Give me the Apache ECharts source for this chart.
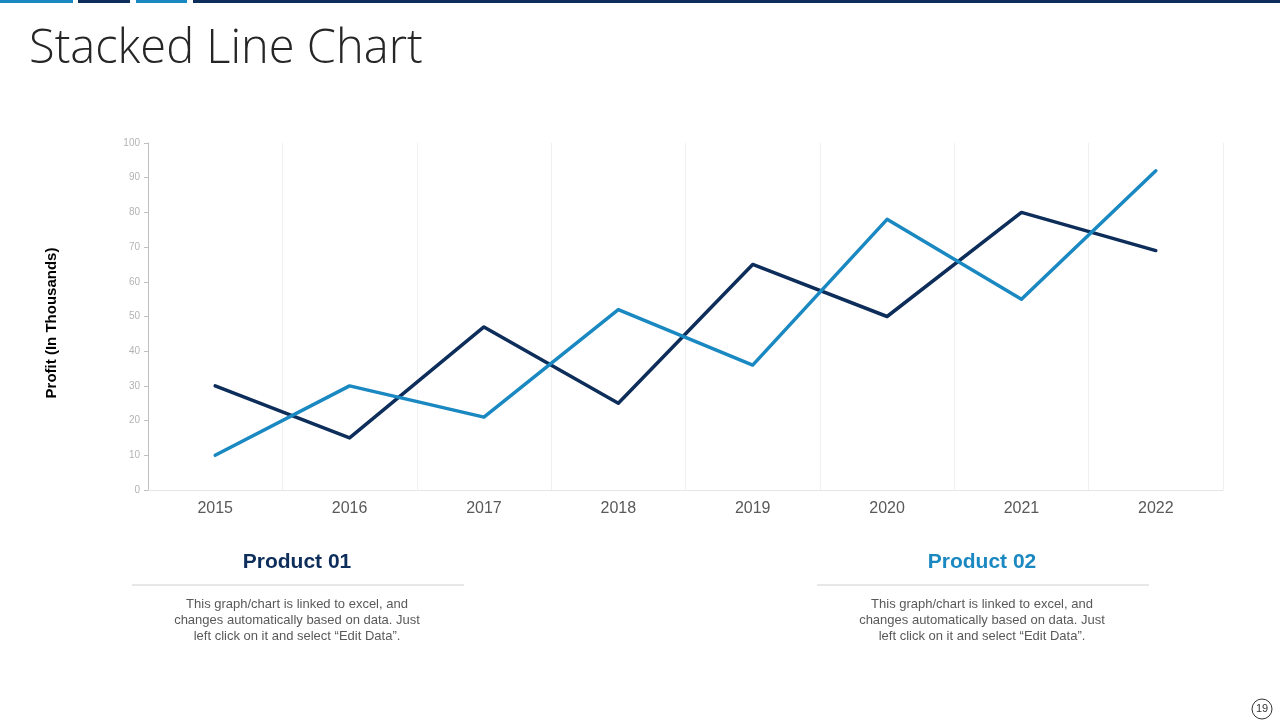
<!DOCTYPE html>
<html>
<head>
<meta charset="utf-8">
<script src="https://cdn.jsdelivr.net/npm/echarts@6/dist/echarts.min.js"></script>
<style>
html,body{margin:0;padding:0;background:#fff;}
#main{width:1280px;height:720px;}
</style>
</head>
<body>
<div id="main"></div>
<script>
const years = ['2015','2016','2017','2018','2019','2020','2021','2022'];
const product01 = [30, 15, 47, 25, 65, 50, 80, 69];
const product02 = [10, 30, 21, 52, 36, 78, 55, 92];
const seriesNames = ['Product 01', 'Product 02'];
const yTicks = [0, 10, 20, 30, 40, 50, 60, 70, 80, 90, 100];
const yAxisTitle = 'Profit (In Thousands)';

const DARK = '#0d2d5a';
const LIGHT = '#1a88c1';
const bodyText = 'This graph/chart is linked to excel, and\nchanges automatically based on data. Just\nleft click on it and select \u201cEdit Data\u201d.';

const chart = echarts.init(document.getElementById('main'));
chart.setOption({
  animation: false,
  backgroundColor: '#ffffff',
  grid: { left: 148, right: 57, top: 143, bottom: 230, containLabel: false },
  xAxis: {
    type: 'category',
    data: years,
    boundaryGap: true,
    axisLine: { show: true, lineStyle: { color: '#e6e6e6', width: 1 } },
    axisTick: { show: false },
    axisLabel: { color: '#595959', fontSize: 16, fontFamily: 'Arial, Liberation Sans', margin: 11 },
    splitLine: { show: true, lineStyle: { color: '#f0f0f0', width: 1 } }
  },
  yAxis: {
    type: 'value',
    min: yTicks[0],
    max: yTicks[yTicks.length - 1],
    interval: 10,
    axisLine: { show: true, lineStyle: { color: '#bfbfbf', width: 1 } },
    axisTick: { show: true, length: 4, lineStyle: { color: '#bfbfbf' } },
    axisLabel: { color: '#b3b3b3', fontSize: 10, fontFamily: 'Arial, Liberation Sans', margin: 8 },
    splitLine: { show: false }
  },
  series: [
    { name: seriesNames[0], type: 'line', data: product01, symbol: 'none',
      lineStyle: { color: DARK, width: 3.5, cap: 'round', join: 'round' } },
    { name: seriesNames[1], type: 'line', data: product02, symbol: 'none',
      lineStyle: { color: LIGHT, width: 3.5, cap: 'round', join: 'round' } }
  ],
  graphic: [
    { type: 'rect', shape: { x: 0, y: 0, width: 73, height: 3 }, style: { fill: LIGHT } },
    { type: 'rect', shape: { x: 78, y: 0, width: 52, height: 3 }, style: { fill: DARK } },
    { type: 'rect', shape: { x: 136, y: 0, width: 51, height: 3 }, style: { fill: LIGHT } },
    { type: 'rect', shape: { x: 193, y: 0, width: 1087, height: 3 }, style: { fill: DARK } },
    { type: 'text', left: 29, top: 26, style: { text: 'Stacked Line Chart', fill: '#262626', fontSize: 47, fontFamily: 'Open Sans, Liberation Sans, Arial', fontWeight: 300 } },
    { type: 'text', x: 52, y: 323, rotation: Math.PI / 2, style: { text: yAxisTitle, fill: '#000', fontSize: 15, fontWeight: 'bold', fontFamily: 'Arial, Liberation Sans', align: 'center', verticalAlign: 'middle' } },
    { type: 'text', x: 297, y: 562, style: { text: seriesNames[0], fill: DARK, fontSize: 21, fontWeight: 'bold', fontFamily: 'Arial, Liberation Sans', align: 'center', verticalAlign: 'middle' } },
    { type: 'line', shape: { x1: 132, y1: 585, x2: 464, y2: 585 }, style: { stroke: '#d0d0d0', lineWidth: 1 } },
    { type: 'text', x: 297, y: 620, style: { text: bodyText, fill: '#595959', fontSize: 13, lineHeight: 16, fontFamily: 'Arial, Liberation Sans', align: 'center', verticalAlign: 'middle' } },
    { type: 'text', x: 982, y: 562, style: { text: seriesNames[1], fill: LIGHT, fontSize: 21, fontWeight: 'bold', fontFamily: 'Arial, Liberation Sans', align: 'center', verticalAlign: 'middle' } },
    { type: 'line', shape: { x1: 817, y1: 585, x2: 1149, y2: 585 }, style: { stroke: '#d0d0d0', lineWidth: 1 } },
    { type: 'text', x: 982, y: 620, style: { text: bodyText, fill: '#595959', fontSize: 13, lineHeight: 16, fontFamily: 'Arial, Liberation Sans', align: 'center', verticalAlign: 'middle' } },
    { type: 'circle', shape: { cx: 1262, cy: 709, r: 10 }, style: { fill: '#fff', stroke: '#333', lineWidth: 1 } },
    { type: 'text', x: 1262, y: 709, style: { text: '19', fill: '#333', fontSize: 11, fontFamily: 'Arial, Liberation Sans', align: 'center', verticalAlign: 'middle' } }
  ]
});
</script>
</body>
</html>
